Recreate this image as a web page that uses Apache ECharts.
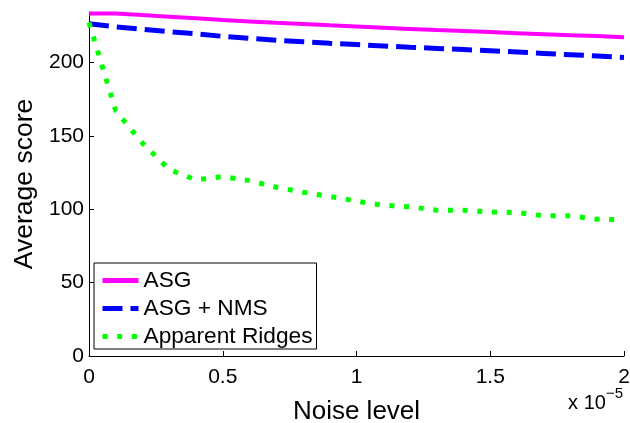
<!DOCTYPE html>
<html><head><meta charset="utf-8">
<script src="https://cdn.jsdelivr.net/npm/echarts@6/dist/echarts.min.js"></script>
<style>html,body{margin:0;padding:0;background:#fff}#c{width:630px;height:423px}</style>
</head><body><div id="c"></div>
<script>
// Noise level in units of 1e-5
const noiseLevel = [0,0.1,0.2,0.3,0.4,0.5,0.6,0.7,0.8,0.9,1.0,1.1,1.2,1.3,1.4,1.5,1.6,1.7,1.8,1.9,2.0];
const asg = [233.4,233.4,232.3,231.2,230.1,229.0,228.0,227.0,226.2,225.3,224.5,223.7,222.9,222.1,221.4,220.7,220.0,219.3,218.6,218.0,217.2];
const asgNms = [226.4,224.3,222.6,221.0,219.6,217.8,216.4,215.2,214.1,213.1,212.2,211.3,210.4,209.6,208.8,208.0,207.1,206.2,205.3,204.4,203.4];
const apparentRidges = [227.3,167,145,127,120,122.3,119.5,115,111.6,108.7,105.5,102.7,101.7,99.3,99.3,98.1,97.8,95.5,95.5,93.2,92.9];
const seriesNames = ['ASG','ASG + NMS','Apparent Ridges'];
const xTicks = [0,0.5,1,1.5,2];
const yTicks = [0,50,100,150,200];

const font = 'Liberation Sans, Arial, Helvetica, sans-serif';
const pair = (ys) => noiseLevel.map((x,i)=>[x,ys[i]]);
const chart = echarts.init(document.getElementById('c'), null, {renderer:'canvas'});
chart.setOption({
  animation:false,
  backgroundColor:'#fff',
  grid:{left:89,right:6,top:12,bottom:67,containLabel:false,outerBoundsMode:'none'},
  xAxis:{type:'value',min:0,max:2,interval:0.5,
    name:'Noise level',nameLocation:'middle',nameGap:43,
    nameTextStyle:{fontFamily:font,fontSize:26,color:'#000'},
    axisLine:{show:true,onZero:false,lineStyle:{color:'#000',width:1}},
    axisTick:{show:true,inside:true,length:5,lineStyle:{color:'#000'}},
    axisLabel:{fontFamily:font,fontSize:21,color:'#000',margin:11,
      formatter:v=>xTicks.includes(v)?String(v):''},
    splitLine:{show:false}},
  yAxis:{type:'value',min:0,max:234.4,interval:50,
    name:'Average score',nameLocation:'middle',nameGap:41,
    nameTextStyle:{fontFamily:font,fontSize:26.5,color:'#000'},
    axisLine:{show:true,lineStyle:{color:'#000',width:1}},
    axisTick:{show:true,inside:true,length:5,lineStyle:{color:'#000'}},
    axisLabel:{fontFamily:font,fontSize:21,color:'#000',margin:5,showMaxLabel:false,
      formatter:v=>yTicks.includes(v)?String(v):''},
    splitLine:{show:false}},
  legend:{orient:'vertical',left:94,top:263,
    backgroundColor:'#fff',borderColor:'#000',borderWidth:1,
    padding:[6,4,1,6],itemGap:5,itemWidth:36,itemHeight:14,
    itemStyle:{opacity:0},
    lineStyle:{width:5},
    textStyle:{fontFamily:font,fontSize:22.7,color:'#000'},
    data:seriesNames},
  graphic:[{type:'text',right:7,top:386,
    style:{text:'{a|x 10}{b|−5}',rich:{a:{fontFamily:font,fontSize:20,fill:'#000',padding:[7,0,0,0]},b:{fontFamily:font,fontSize:15,fill:'#000',verticalAlign:'top'}}}}],
  series:[
    {name:seriesNames[0],type:'line',data:pair(asg),symbol:'none',
      lineStyle:{color:'#ff00ff',width:4},itemStyle:{color:'#ff00ff'}},
    {name:seriesNames[1],type:'line',data:pair(asgNms),symbol:'none',
      lineStyle:{color:'#0000ff',width:5,type:[20,8],cap:'butt'},itemStyle:{color:'#0000ff'}},
    {name:seriesNames[2],type:'line',data:pair(apparentRidges),symbol:'none',
      lineStyle:{color:'#00ff00',width:5,type:[5,9.7],cap:'butt'},itemStyle:{color:'#00ff00'}}
  ]
});
</script></body></html>
